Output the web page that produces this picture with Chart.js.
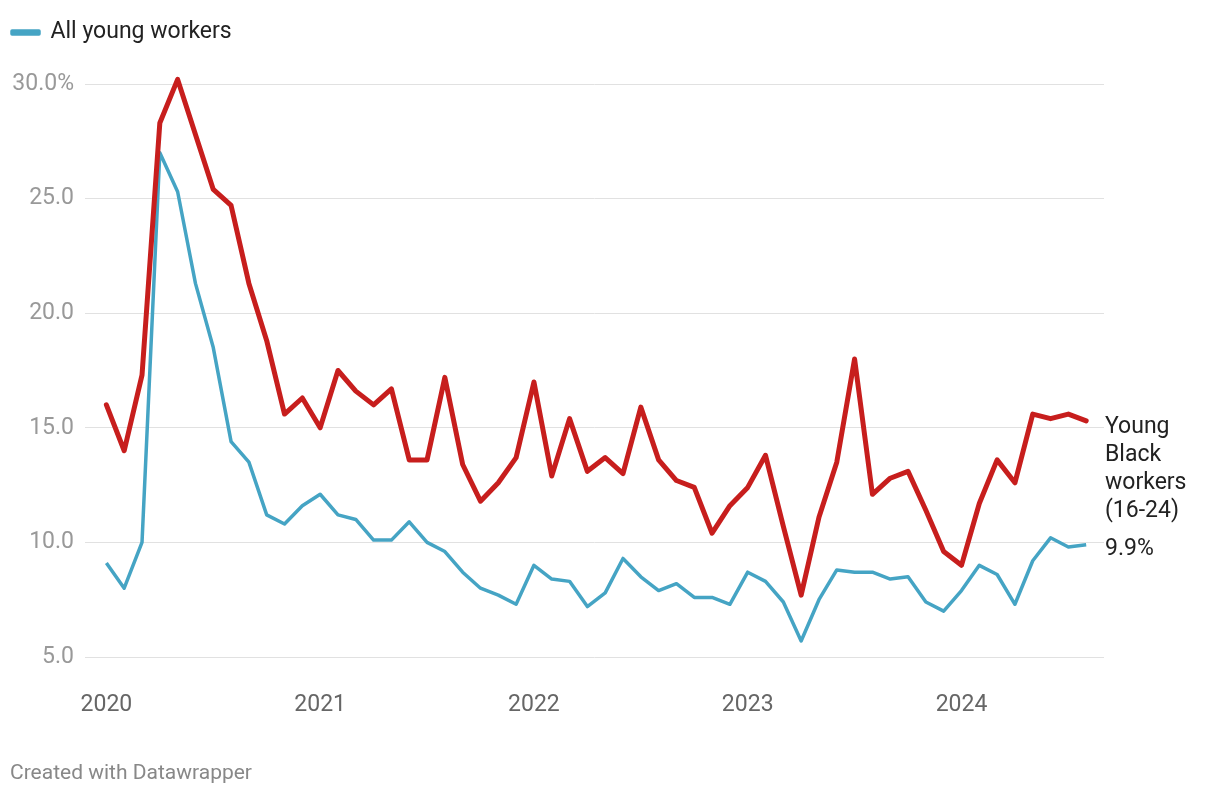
<!DOCTYPE html>
<html>
<head>
<meta charset="utf-8">
<script src="https://cdn.jsdelivr.net/npm/chart.js@4/dist/chart.umd.min.js"></script>
<style>
  html, body { margin: 0; padding: 0; background: #fff; }
  #wrap { position: relative; width: 1220px; height: 796px; }
  #footer { position: absolute; left: 10px; top: 760px; font: 21px Roboto, sans-serif; color: #888; }
</style>
</head>
<body>
<div id="wrap">
  <canvas id="myChart" width="1220" height="796"></canvas>
  <div id="footer">Created with Datawrapper</div>
</div>
<script>
// monthly, Jan 2020 - Aug 2024
var yearLabels = ["2020", "2021", "2022", "2023", "2024"];
var yearTicks = [0, 12, 24, 36, 48];
var yTicks = [5, 10, 15, 20, 25, 30];

var blackYoung = [16.0, 14.0, 17.3, 28.3, 30.2, 27.8, 25.4, 24.7, 21.3, 18.8, 15.6, 16.3,
                  15.0, 17.5, 16.6, 16.0, 16.7, 13.6, 13.6, 17.2, 13.4, 11.8, 12.6, 13.7,
                  17.0, 12.9, 15.4, 13.1, 13.7, 13.0, 15.9, 13.6, 12.7, 12.4, 10.4, 11.6,
                  12.4, 13.8, 10.7, 7.7, 11.1, 13.5, 18.0, 12.1, 12.8, 13.1, 11.4, 9.6,
                  9.0, 11.7, 13.6, 12.6, 15.6, 15.4, 15.6, 15.3];
var allYoung = [9.1, 8.0, 10.0, 27.0, 25.3, 21.3, 18.5, 14.4, 13.5, 11.2, 10.8, 11.6,
                12.1, 11.2, 11.0, 10.1, 10.1, 10.9, 10.0, 9.6, 8.7, 8.0, 7.7, 7.3,
                9.0, 8.4, 8.3, 7.2, 7.8, 9.3, 8.5, 7.9, 8.2, 7.6, 7.6, 7.3,
                8.7, 8.3, 7.4, 5.7, 7.5, 8.8, 8.7, 8.7, 8.4, 8.5, 7.4, 7.0,
                7.9, 9.0, 8.6, 7.3, 9.2, 10.2, 9.8, 9.9];

function toPoints(arr) {
    return arr.map(function (v, i) { return { x: i, y: v }; });
}

// extra room under the legend
var legendGap = {
    id: 'legendGap',
    beforeInit: function (chart) {
        var fit = chart.legend.fit;
        chart.legend.fit = function () {
            fit.bind(chart.legend)();
            this.height += 30;
        };
    }
};

var endLabels = {
    id: 'endLabels',
    afterDatasetsDraw: function (chart) {
        var c = chart.ctx;
        var left = chart.chartArea.right + 1;
        c.save();
        c.font = '23px Roboto, sans-serif';
        c.fillStyle = '#222';
        c.textBaseline = 'middle';
        c.textAlign = 'left';
        var red = chart.getDatasetMeta(0).data;
        var ry = red[red.length - 1].y + 6;
        ['Young', 'Black', 'workers', '(16-24)'].forEach(function (t, i) {
            c.fillText(t, left, ry + i * 28);
        });
        var blue = chart.getDatasetMeta(1).data;
        c.fillText(allYoung[allYoung.length - 1].toFixed(1) + '%', left, blue[blue.length - 1].y + 5);
        c.restore();
    }
};

var ctx = document.getElementById('myChart').getContext('2d');
var chart = new Chart(ctx, {
    type: 'line',
    data: {
        datasets: [{
            label: 'Young Black workers (16-24)',
            data: toPoints(blackYoung),
            borderColor: '#c71e1d',
            backgroundColor: '#c71e1d',
            borderWidth: 5,
            pointRadius: 0,
            borderJoinStyle: 'round',
            borderCapStyle: 'round',
            clip: false
        }, {
            label: 'All young workers',
            data: toPoints(allYoung),
            borderColor: '#45a4c4',
            backgroundColor: '#45a4c4',
            borderWidth: 3.5,
            pointRadius: 0,
            borderJoinStyle: 'round',
            clip: false
        }]
    },
    options: {
        responsive: false,
        animation: false,
        layout: { padding: { left: 10, right: 116, top: 19, bottom: 0 } },
        plugins: {
            tooltip: { enabled: false },
            legend: {
                position: 'top',
                align: 'start',
                labels: {
                    filter: function (item) { return item.text === 'All young workers'; },
                    boxWidth: 27,
                    boxHeight: 3,
                    color: '#222',
                    padding: 2,
                    font: { family: 'Roboto', size: 23 }
                }
            }
        },
        scales: {
            x: {
                type: 'linear',
                min: -1.2,
                max: 56,
                afterBuildTicks: function (scale) {
                    scale.ticks = yearTicks.map(function (v) { return { value: v }; });
                },
                afterFit: function (scale) { scale.height = 139; },
                grid: { display: false, drawTicks: false },
                border: { display: false },
                ticks: {
                    padding: 34,
                    color: '#666',
                    maxRotation: 0,
                    autoSkip: false,
                    font: { family: 'Roboto', size: 23 },
                    callback: function (v) { return yearLabels[yearTicks.indexOf(v)]; }
                }
            },
            y: {
                min: 5,
                max: 30,
                afterBuildTicks: function (scale) {
                    scale.ticks = yTicks.map(function (v) { return { value: v }; });
                },
                afterFit: function (scale) { scale.width = 75; },
                grid: { color: '#e1e1e1', lineWidth: 1, drawTicks: false },
                border: { display: false },
                ticks: {
                    crossAlign: 'near',
                    padding: 11,
                    color: '#999',
                    font: { family: 'Roboto', size: 23 },
                    callback: function (v) { return v === 30 ? '30.0%' : v.toFixed(1); }
                }
            }
        }
    },
    plugins: [legendGap, endLabels]
});
</script>
</body>
</html>
